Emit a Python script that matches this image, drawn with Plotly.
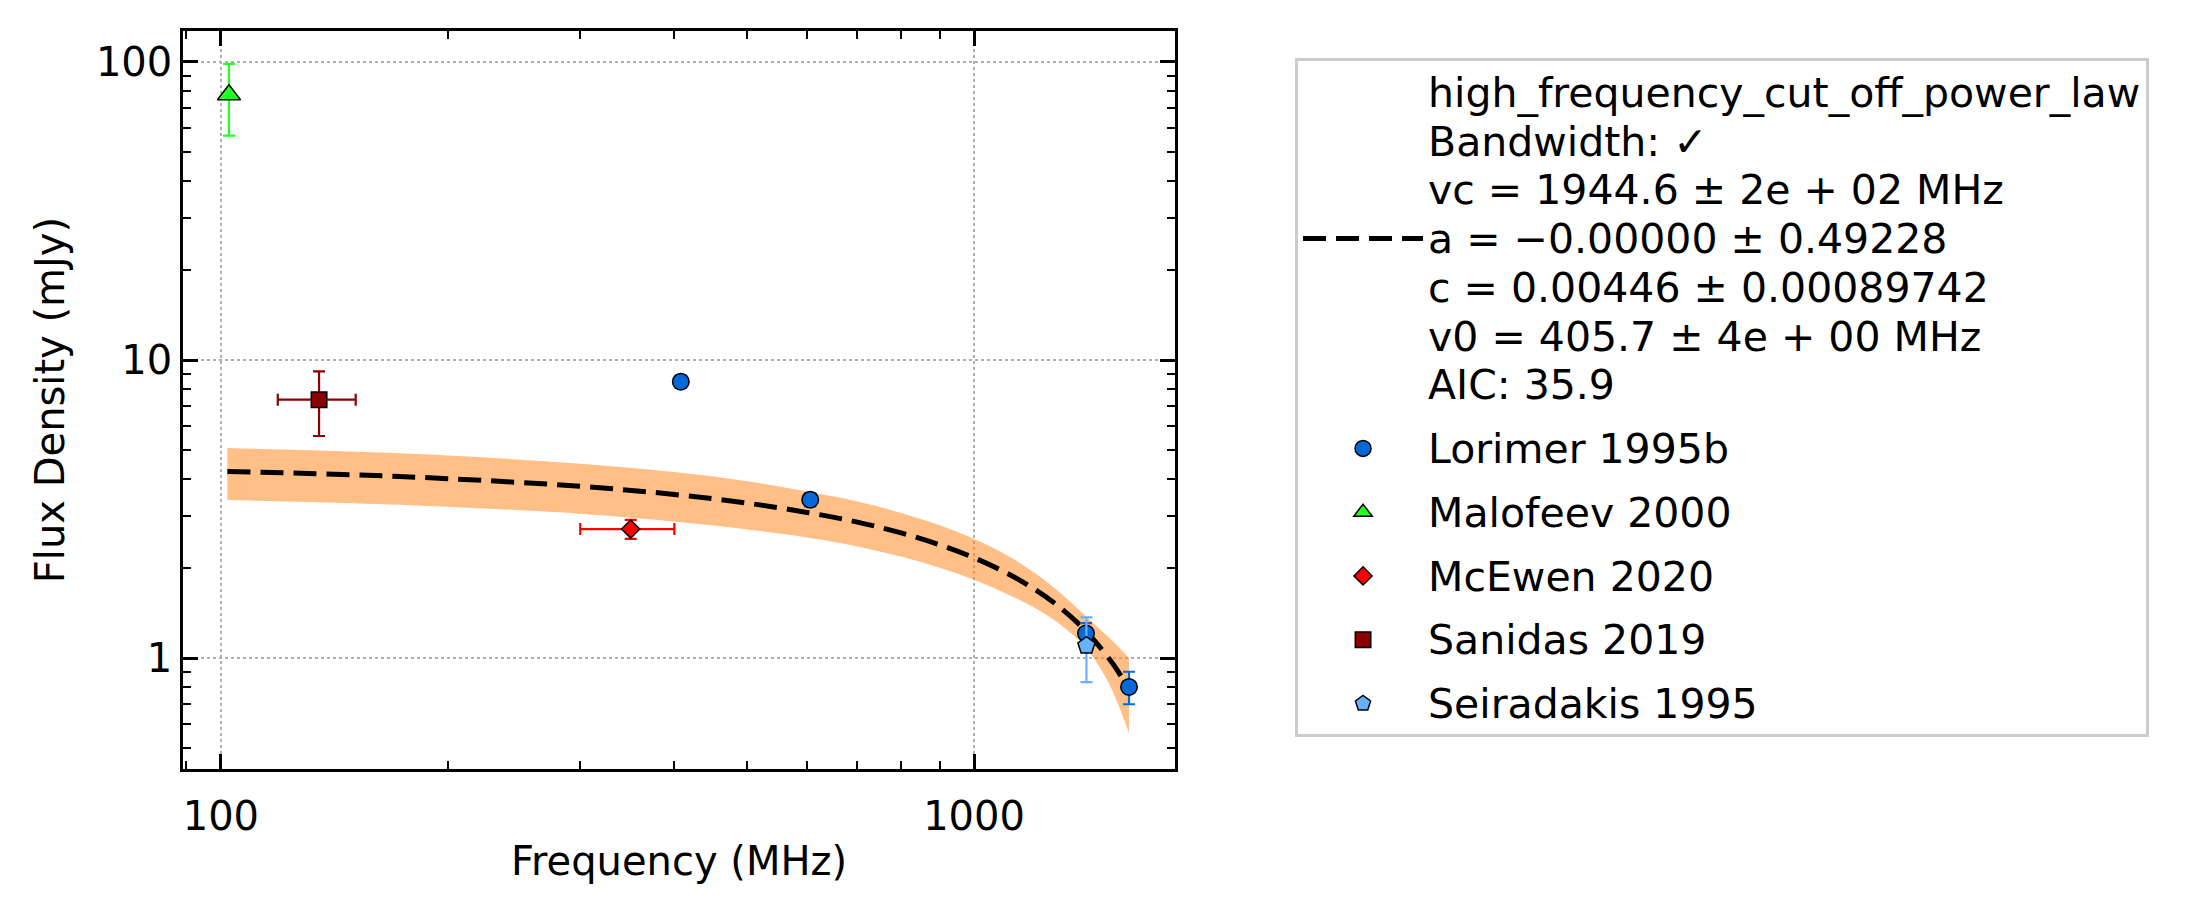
import plotly.graph_objects as go

# ---------------- data ----------------
fit_freq = [102, 150, 200, 300, 400, 500, 600, 700, 800, 900, 1000,
            1100, 1200, 1300, 1400, 1500, 1550, 1606]
fit_flux = [4.23, 4.12, 4.00, 3.77, 3.54, 3.31, 3.08, 2.86, 2.63, 2.40, 2.17,
            1.94, 1.71, 1.48, 1.25, 1.02, 0.91, 0.78]
band_upper = [5.07, 4.93, 4.78, 4.49, 4.21, 3.92, 3.62, 3.35, 3.07, 2.79, 2.51,
              2.23, 1.94, 1.66, 1.40, 1.19, 1.10, 1.00]
band_lower = [3.39, 3.31, 3.22, 3.05, 2.87, 2.70, 2.54, 2.37, 2.19, 2.01, 1.83,
              1.65, 1.48, 1.30, 1.10, 0.85, 0.71, 0.56]

lorimer_freq = [408, 606, 1408, 1606]
lorimer_flux = [8.46, 3.40, 1.21, 0.80]
lorimer_err = [0.4, 0.17, 0.10, 0.10]

malofeev_freq = [102.5]
malofeev_flux = [77.6]
malofeev_err = [21.0]

mcewen_freq = [350]
mcewen_flux = [2.71]
mcewen_err = [0.2]
mcewen_xerr = [50]

sanidas_freq = [135]
sanidas_flux = [7.36]
sanidas_err = [1.8]
sanidas_xerr = [16]

seiradakis_freq = [1410]
seiradakis_flux = [1.10]
seiradakis_err = [0.27]

fit_lines = ["high_frequency_cut_off_power_law",
             "Bandwidth: ✓",
             "vc = 1944.6 ± 2e + 02 MHz",
             "a = −0.00000 ± 0.49228",
             "c = 0.00446 ± 0.00089742",
             "v0 = 405.7 ± 4e + 00 MHz",
             "AIC: 35.9"]

x_major = [100, 1000]
x_major_text = ["100", "1000"]
x_minor = [90, 200, 300, 400, 500, 600, 700, 800, 900]
y_major = [1, 10, 100]
y_major_text = ["1", "10", "100"]
y_minor = [0.5, 0.6, 0.7, 0.8, 0.9, 2, 3, 4, 5, 6, 7, 8, 9,
           20, 30, 40, 50, 60, 70, 80, 90]

FONT = "DejaVu Sans"
FS = 40
LEG_LINE_FS = 37.5   # controls legend line spacing
LEG_GLYPH_FS = 41    # actual glyph size of legend text


def leg(text):
    return '<span style="font-size:%dpx">%s</span>' % (LEG_GLYPH_FS, text)


fig = go.Figure()

# uncertainty band
fig.add_trace(go.Scatter(x=fit_freq, y=band_upper, mode="lines",
                         line=dict(width=0, shape="spline"),
                         showlegend=False, hoverinfo="skip"))
fig.add_trace(go.Scatter(x=fit_freq, y=band_lower, mode="lines",
                         line=dict(width=0, shape="spline"),
                         fill="tonexty", fillcolor="rgba(255,127,14,0.5)",
                         showlegend=False, hoverinfo="skip"))

# fitted model
fig.add_trace(go.Scatter(x=fit_freq, y=fit_flux, mode="lines",
                         name="<br>".join(leg(t) for t in fit_lines),
                         line=dict(color="black", width=5, dash="23px,10px",
                                   shape="spline"),
                         legendgroup="g1", legendrank=1))


def add_points(name, x, y, yerr, color, symbol, size, rank, xerr=None):
    ex = None
    if xerr is not None:
        ex = dict(type="data", array=xerr, color=color, thickness=2.2,
                  width=6, visible=True)
    fig.add_trace(go.Scatter(
        x=x, y=y, mode="markers", name=leg(name),
        marker=dict(color=color, symbol=symbol, size=size,
                    line=dict(color="black", width=1.5)),
        error_y=dict(type="data", array=yerr, color=color, thickness=2.2,
                     width=6, visible=True),
        error_x=ex,
        legendgroup="g%d" % rank, legendrank=rank))


add_points("Lorimer 1995b", lorimer_freq, lorimer_flux, lorimer_err,
           "#0369d9", "circle", 16.5, 2)
add_points("Malofeev 2000", malofeev_freq, malofeev_flux, malofeev_err,
           "#22ff22", "triangle-up", 20, 3)
add_points("McEwen 2020", mcewen_freq, mcewen_flux, mcewen_err,
           "#ff0000", "diamond", 14, 4, xerr=mcewen_xerr)
add_points("Sanidas 2019", sanidas_freq, sanidas_flux, sanidas_err,
           "#8b0000", "square", 15.5, 5, xerr=sanidas_xerr)
add_points("Seiradakis 1995", seiradakis_freq, seiradakis_flux, seiradakis_err,
           "#66b2ff", "pentagon", 18, 6)

axis_common = dict(
    type="log", ticks="inside", ticklen=15, tickwidth=2.5, tickcolor="black",
    showline=True, linecolor="black", linewidth=2.5, mirror="allticks",
    showgrid=True, gridcolor="#b0b0b0", griddash="dot", gridwidth=1.5,
    zeroline=False,
    tickfont=dict(size=FS, family=FONT, color="black"),
)

fig.update_layout(
    width=2198, height=914,
    margin=dict(l=183, r=1023, t=31, b=145),
    paper_bgcolor="white", plot_bgcolor="white",
    font=dict(family=FONT, size=FS, color="black"),
    xaxis=dict(
        range=[1.9497, 3.2668], tickmode="array", tickvals=x_major,
        ticktext=x_major_text,
        minor=dict(tickmode="array", tickvals=x_minor, ticks="inside",
                   ticklen=8, tickwidth=2, tickcolor="black", showgrid=False),
        ticklabelstandoff=10,
        title=dict(text="Frequency (MHz)", font=dict(size=FS, family=FONT),
                   standoff=10),
        **axis_common),
    yaxis=dict(
        range=[-0.3721, 2.1039], tickmode="array", tickvals=y_major,
        ticktext=y_major_text,
        minor=dict(tickmode="array", tickvals=y_minor, ticks="inside",
                   ticklen=8, tickwidth=2, tickcolor="black", showgrid=False),
        ticklabelstandoff=0,
        title=dict(text="Flux Density (mJy)", font=dict(size=FS, family=FONT),
                   standoff=19),
        **axis_common),
    legend=dict(x=1.121, y=0.963, xanchor="left", yanchor="top",
                bordercolor="#cccccc", borderwidth=3, bgcolor="white",
                font=dict(size=LEG_LINE_FS, family=FONT, color="black"),
                itemwidth=120, tracegroupgap=12, traceorder="grouped",
                valign="middle"),
    showlegend=True,
)

fig.write_html("out.html")
